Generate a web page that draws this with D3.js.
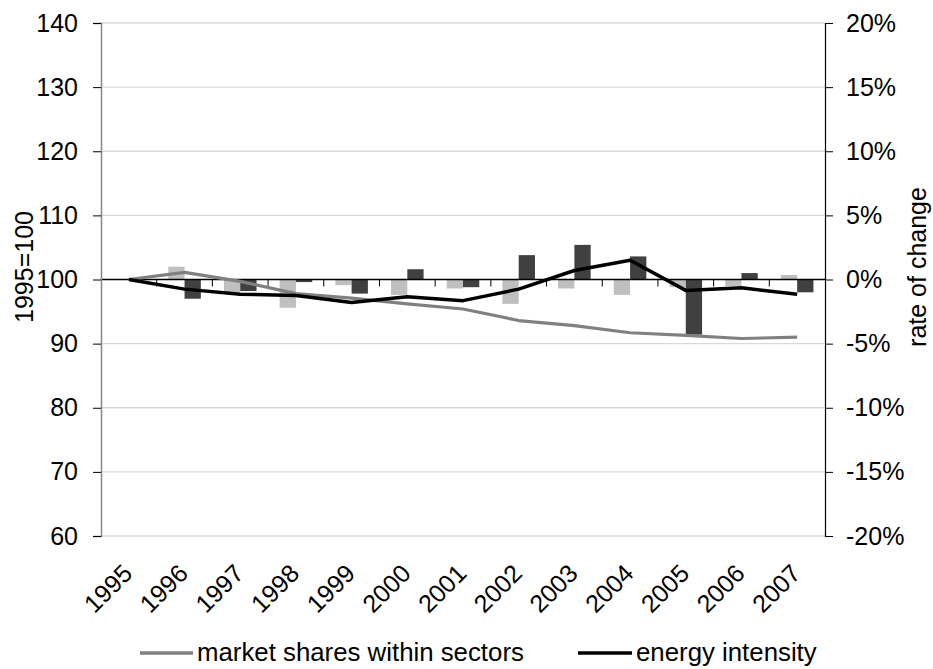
<!DOCTYPE html>
<html>
<head>
<meta charset="utf-8">
<script src="https://cdn.jsdelivr.net/npm/d3@7"></script>
<style>
  html, body { margin: 0; padding: 0; background: #fff; }
  svg { display: block; font-family: "Liberation Sans", Arial, sans-serif; }
</style>
</head>
<body>
<svg id="chart" width="933" height="669"></svg>
<script>
// ---- data ----
const years = ["1995","1996","1997","1998","1999","2000","2001","2002","2003","2004","2005","2006","2007"];
// index lines (left axis, 1995=100)
const marketShares = [100, 101.1, 99.7, 97.8, 97.1, 96.2, 95.4, 93.6, 92.8, 91.7, 91.3, 90.8, 91.0];
const energyIntensity = [100, 98.5, 97.7, 97.5, 96.4, 97.3, 96.7, 98.5, 101.4, 103.0, 98.3, 98.7, 97.7];
// rates of change (right axis, %)
const marketSharesRate = [0, 1.0, -1.0, -2.2, -0.45, -1.2, -0.7, -1.9, -0.7, -1.2, -0.6, -0.5, 0.35];
const energyIntensityRate = [0, -1.5, -0.9, -0.2, -1.1, 0.8, -0.6, 1.9, 2.7, 1.8, -4.3, 0.5, -1.0];
const leftTicks = [60, 70, 80, 90, 100, 110, 120, 130, 140];
const rightTicks = [-20, -15, -10, -5, 0, 5, 10, 15, 20];
const legendLabels = ["market shares within sectors", "energy intensity"];

// ---- layout ----
const svg = d3.select("#chart");
const L = 101, R = 825, T = 23, B = 536;
const FS = 25;

const x = d3.scaleBand().domain(years).range([L, R]).paddingInner(0).paddingOuter(0);
const xi = d3.scaleBand().domain(["ms", "ei"]).range([0, x.bandwidth()]).paddingInner(0).paddingOuter(0.71);
const yL = d3.scaleLinear().domain([60, 140]).range([B, T]);
const yR = d3.scaleLinear().domain([-20, 20]).range([B, T]);

// gridlines
svg.append("g").selectAll("line").data(leftTicks.filter(d => d !== 100)).join("line")
  .attr("x1", L).attr("x2", R)
  .attr("y1", d => yL(d)).attr("y2", d => yL(d))
  .attr("stroke", "#d9d9d9").attr("stroke-width", 1.3);

// bars
const barData = [];
years.forEach((yr, i) => {
  barData.push({ yr, key: "ms", v: marketSharesRate[i] });
  barData.push({ yr, key: "ei", v: energyIntensityRate[i] });
});
svg.append("g").selectAll("rect").data(barData.filter(d => d.v !== 0)).join("rect")
  .attr("x", d => x(d.yr) + xi(d.key))
  .attr("width", xi.bandwidth())
  .attr("y", d => Math.min(yR(d.v), yR(0)))
  .attr("height", d => Math.abs(yR(d.v) - yR(0)))
  .attr("fill", d => d.key === "ms" ? "#bfbfbf" : "#404040");

// category axis at 100 / 0%
const zeroY = yL(100);
svg.append("line").attr("x1", L).attr("x2", R).attr("y1", zeroY).attr("y2", zeroY)
  .attr("stroke", "#000").attr("stroke-width", 1.3);
svg.append("g").selectAll("line").data(years.slice(1)).join("line")
  .attr("x1", d => x(d)).attr("x2", d => x(d))
  .attr("y1", zeroY).attr("y2", zeroY + 7)
  .attr("stroke", "#000").attr("stroke-width", 1);

// left axis
const leftAxis = d3.axisLeft(yL).tickValues(leftTicks).tickSize(8).tickPadding(15);
const gl = svg.append("g").attr("transform", `translate(${L},0)`).call(leftAxis);
gl.select(".domain").attr("stroke", "#868686").attr("stroke-width", 1.5);
gl.selectAll(".tick line").attr("stroke", "#000");
gl.selectAll(".tick text").attr("font-size", FS).attr("fill", "#000")
  .attr("font-family", '"Liberation Sans", Arial, sans-serif');

// right axis
const rightAxis = d3.axisRight(yR).tickValues(rightTicks).tickSize(8).tickPadding(13)
  .tickFormat(d => d + "%");
const gr = svg.append("g").attr("transform", `translate(${R},0)`).call(rightAxis);
gr.select(".domain").attr("stroke", "#000").attr("stroke-width", 1.2);
gr.selectAll(".tick line").attr("stroke", "#000");
gr.selectAll(".tick text").attr("font-size", FS).attr("fill", "#000")
  .attr("font-family", '"Liberation Sans", Arial, sans-serif');

// x labels
svg.append("g").selectAll("text").data(years).join("text")
  .attr("transform", d => `translate(${x(d) + x.bandwidth() / 2 + 5},${B + 39}) rotate(-45)`)
  .attr("text-anchor", "end")
  .attr("font-size", FS)
  .text(d => d);

// lines
const cx = d => x(d) + x.bandwidth() / 2;
const lineL = d3.line().x((d, i) => cx(years[i])).y(d => yL(d));
svg.append("path").datum(marketShares).attr("d", lineL)
  .attr("fill", "none").attr("stroke", "#808080").attr("stroke-width", 3.2).attr("stroke-linejoin", "round");
svg.append("path").datum(energyIntensity).attr("d", lineL)
  .attr("fill", "none").attr("stroke", "#000").attr("stroke-width", 3.5).attr("stroke-linejoin", "round");

// axis titles
svg.append("text").attr("transform", `translate(${33},${267}) rotate(-90)`)
  .attr("text-anchor", "middle").attr("font-size", FS).text("1995=100");
svg.append("text").attr("transform", `translate(${926},${267}) rotate(-90)`)
  .attr("text-anchor", "middle").attr("font-size", 25).text("rate of change");

// legend
const legend = [
  { label: legendLabels[0], color: "#808080", x1: 140, x2: 193 },
  { label: legendLabels[1], color: "#000", x1: 578, x2: 632 }
];
const lg = svg.append("g");
legend.forEach(d => {
  lg.append("line").attr("x1", d.x1).attr("x2", d.x2).attr("y1", 653).attr("y2", 653)
    .attr("stroke", d.color).attr("stroke-width", 3.5);
  lg.append("text").attr("x", d.x2 + 4).attr("y", 661).attr("font-size", 25.8).text(d.label);
});
</script>
</body>
</html>
